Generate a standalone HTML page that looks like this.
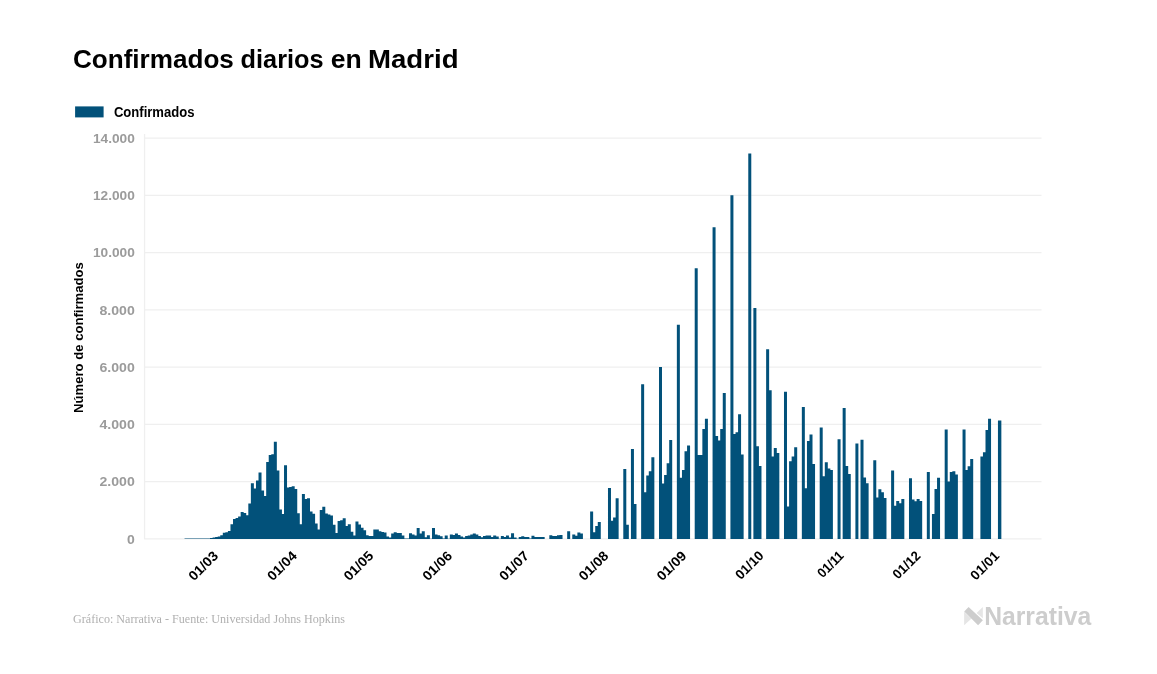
<!DOCTYPE html>
<html lang="es"><head><meta charset="utf-8"><title>Confirmados diarios en Madrid</title>
<style>
html,body{margin:0;padding:0;background:#fff;}
body{width:1157px;height:674px;overflow:hidden;font-family:"Liberation Sans",sans-serif;}
svg{display:block;}
text{font-family:"Liberation Sans",sans-serif;font-weight:bold;}
.title{font-size:26px;fill:#000;}
.leg{font-size:13.8px;fill:#000;}
.yl text{font-size:13.5px;fill:#9b9b9b;text-anchor:end;}
.xl text{font-size:13.5px;fill:#000;}
.yt{font-size:13px;fill:#000;text-anchor:middle;}
.foot{font-family:"Liberation Serif",serif;font-weight:normal;font-size:13px;fill:#b0b0b0;}
.logo{font-size:25.6px;fill:#cdcdcd;}
.grid line{stroke:#efefef;stroke-width:1.3;}
</style></head><body>
<svg width="1157" height="674" viewBox="0 0 1157 674">
<rect width="1157" height="674" fill="#fff"/>
<text class="title" y="67.6"><tspan x="72.9" textLength="161" lengthAdjust="spacingAndGlyphs">Confirmados</tspan> <tspan x="240.6" textLength="83" lengthAdjust="spacingAndGlyphs">diarios</tspan> <tspan x="330.8" textLength="31" lengthAdjust="spacingAndGlyphs">en</tspan> <tspan x="368" textLength="90.5" lengthAdjust="spacingAndGlyphs">Madrid</tspan></text>
<rect x="75.1" y="106.4" width="28.5" height="11" fill="#02517a"/>
<text class="leg" x="113.9" y="116.7" textLength="80.6" lengthAdjust="spacingAndGlyphs">Confirmados</text>
<g class="grid"><line x1="144.5" x2="1041.5" y1="138.15" y2="138.15"/><line x1="144.5" x2="1041.5" y1="195.40" y2="195.40"/><line x1="144.5" x2="1041.5" y1="252.64" y2="252.64"/><line x1="144.5" x2="1041.5" y1="309.89" y2="309.89"/><line x1="144.5" x2="1041.5" y1="367.13" y2="367.13"/><line x1="144.5" x2="1041.5" y1="424.38" y2="424.38"/><line x1="144.5" x2="1041.5" y1="481.62" y2="481.62"/><line x1="144.5" x2="1041.5" y1="538.87" y2="538.87"/><line x1="144.55" x2="144.55" y1="134" y2="539.3"/></g>
<g class="yl"><text x="134.8" y="142.85" textLength="41.9" lengthAdjust="spacingAndGlyphs">14.000</text><text x="134.8" y="200.10" textLength="41.9" lengthAdjust="spacingAndGlyphs">12.000</text><text x="134.8" y="257.34" textLength="41.9" lengthAdjust="spacingAndGlyphs">10.000</text><text x="134.8" y="314.59" textLength="35.3" lengthAdjust="spacingAndGlyphs">8.000</text><text x="134.8" y="371.83" textLength="35.3" lengthAdjust="spacingAndGlyphs">6.000</text><text x="134.8" y="429.08" textLength="35.3" lengthAdjust="spacingAndGlyphs">4.000</text><text x="134.8" y="486.32" textLength="35.3" lengthAdjust="spacingAndGlyphs">2.000</text><text x="134.8" y="543.57" textLength="7.8" lengthAdjust="spacingAndGlyphs">0</text></g>
<text class="yt" transform="translate(83.3 337.6) rotate(-90)" textLength="150.7" lengthAdjust="spacingAndGlyphs">Número de confirmados</text>
<path fill="#02517a" d="M184.55 538.9V538.55H187.55V538.9ZM187.10 538.9V538.55H190.10V538.9ZM189.65 538.9V538.55H192.65V538.9ZM192.20 538.9V538.55H195.20V538.9ZM194.75 538.9V538.55H197.75V538.9ZM197.31 538.9V538.55H200.31V538.9ZM199.86 538.9V538.55H202.86V538.9ZM202.41 538.9V538.55H205.41V538.9ZM204.96 538.9V538.55H207.96V538.9ZM207.51 538.9V538.55H210.51V538.9ZM210.06 538.9V538.00H213.06V538.9ZM212.61 538.9V537.40H215.61V538.9ZM215.16 538.9V537.10H218.16V538.9ZM217.71 538.9V536.50H220.71V538.9ZM220.26 538.9V535.30H223.26V538.9ZM222.81 538.9V532.70H225.81V538.9ZM225.36 538.9V532.20H228.36V538.9ZM227.91 538.9V531.00H230.91V538.9ZM230.47 538.9V524.20H233.47V538.9ZM233.02 538.9V519.10H236.02V538.9ZM235.57 538.9V517.90H238.57V538.9ZM238.12 538.9V516.50H241.12V538.9ZM240.67 538.9V511.90H243.67V538.9ZM243.22 538.9V513.10H246.22V538.9ZM245.77 538.9V515.20H248.77V538.9ZM248.32 538.9V503.40H251.32V538.9ZM250.87 538.9V483.30H253.87V538.9ZM253.42 538.9V488.40H256.42V538.9ZM255.97 538.9V480.40H258.97V538.9ZM258.52 538.9V472.50H261.52V538.9ZM261.07 538.9V490.40H264.07V538.9ZM263.63 538.9V496.10H266.63V538.9ZM266.18 538.9V461.90H269.18V538.9ZM268.73 538.9V455.10H271.73V538.9ZM271.28 538.9V454.30H274.28V538.9ZM273.83 538.9V441.80H276.83V538.9ZM276.38 538.9V470.50H279.38V538.9ZM278.93 538.9V509.40H281.93V538.9ZM281.48 538.9V514.00H284.48V538.9ZM284.03 538.9V465.30H287.03V538.9ZM286.58 538.9V487.50H289.58V538.9ZM289.13 538.9V487.10H292.13V538.9ZM291.68 538.9V486.30H294.68V538.9ZM294.24 538.9V488.90H297.24V538.9ZM296.79 538.9V513.30H299.79V538.9ZM299.34 538.9V524.20H302.34V538.9ZM301.89 538.9V494.10H304.89V538.9ZM304.44 538.9V499.10H307.44V538.9ZM306.99 538.9V498.30H309.99V538.9ZM309.54 538.9V511.50H312.54V538.9ZM312.09 538.9V513.80H315.09V538.9ZM314.64 538.9V523.40H317.64V538.9ZM317.19 538.9V529.40H320.19V538.9ZM319.74 538.9V510.00H322.74V538.9ZM322.29 538.9V506.80H325.29V538.9ZM324.85 538.9V513.40H327.85V538.9ZM327.40 538.9V514.40H330.40V538.9ZM329.95 538.9V515.50H332.95V538.9ZM332.50 538.9V524.70H335.50V538.9ZM335.05 538.9V533.10H338.05V538.9ZM337.60 538.9V521.10H340.60V538.9ZM340.15 538.9V520.30H343.15V538.9ZM342.70 538.9V518.30H345.70V538.9ZM345.25 538.9V526.00H348.25V538.9ZM347.80 538.9V524.20H350.80V538.9ZM350.35 538.9V531.70H353.35V538.9ZM352.90 538.9V535.40H355.90V538.9ZM355.45 538.9V521.60H358.45V538.9ZM358.01 538.9V524.50H361.01V538.9ZM360.56 538.9V527.80H363.56V538.9ZM363.11 538.9V530.20H366.11V538.9ZM365.66 538.9V535.20H368.66V538.9ZM368.21 538.9V535.90H371.21V538.9ZM370.76 538.9V535.90H373.76V538.9ZM373.31 538.9V529.40H376.31V538.9ZM375.86 538.9V529.40H378.86V538.9ZM378.41 538.9V531.20H381.41V538.9ZM380.96 538.9V531.90H383.96V538.9ZM383.51 538.9V532.60H386.51V538.9ZM386.06 538.9V536.40H389.06V538.9ZM388.62 538.9V537.40H391.62V538.9ZM391.17 538.9V533.60H394.17V538.9ZM393.72 538.9V532.30H396.72V538.9ZM396.27 538.9V533.10H399.27V538.9ZM398.82 538.9V533.10H401.82V538.9ZM401.37 538.9V535.40H404.37V538.9ZM403.92 538.9V538.50H406.92V538.9ZM406.47 538.9V538.60H409.47V538.9ZM409.02 538.9V533.20H412.02V538.9ZM411.57 538.9V534.60H414.57V538.9ZM414.12 538.9V535.60H417.12V538.9ZM416.67 538.9V527.90H419.67V538.9ZM419.22 538.9V533.40H422.22V538.9ZM421.78 538.9V531.30H424.78V538.9ZM424.33 538.9V537.20H427.33V538.9ZM426.88 538.9V535.20H429.88V538.9ZM429.43 538.9V538.70H432.43V538.9ZM431.98 538.9V527.90H434.98V538.9ZM434.53 538.9V534.40H437.53V538.9ZM437.08 538.9V535.20H440.08V538.9ZM439.63 538.9V536.20H442.63V538.9ZM442.18 538.9V538.40H445.18V538.9ZM444.73 538.9V535.60H447.73V538.9ZM447.28 538.9V538.70H450.28V538.9ZM449.83 538.9V534.40H452.83V538.9ZM452.38 538.9V535.10H455.38V538.9ZM454.94 538.9V533.50H457.94V538.9ZM457.49 538.9V534.90H460.49V538.9ZM460.04 538.9V536.40H463.04V538.9ZM462.59 538.9V537.60H465.59V538.9ZM465.14 538.9V536.10H468.14V538.9ZM467.69 538.9V535.60H470.69V538.9ZM470.24 538.9V534.40H473.24V538.9ZM472.79 538.9V533.50H475.79V538.9ZM475.34 538.9V534.40H478.34V538.9ZM477.89 538.9V535.90H480.89V538.9ZM480.44 538.9V537.20H483.44V538.9ZM482.99 538.9V536.00H485.99V538.9ZM485.55 538.9V535.40H488.55V538.9ZM488.10 538.9V535.40H491.10V538.9ZM490.65 538.9V537.00H493.65V538.9ZM493.20 538.9V535.40H496.20V538.9ZM495.75 538.9V536.40H498.75V538.9ZM498.30 538.9V538.70H501.30V538.9ZM500.85 538.9V535.90H503.85V538.9ZM503.40 538.9V537.10H506.40V538.9ZM505.95 538.9V535.40H508.95V538.9ZM508.50 538.9V537.50H511.50V538.9ZM511.05 538.9V533.20H514.05V538.9ZM513.60 538.9V537.50H516.60V538.9ZM516.15 538.9V538.70H519.15V538.9ZM518.71 538.9V537.00H521.71V538.9ZM521.26 538.9V536.30H524.26V538.9ZM523.81 538.9V537.00H526.81V538.9ZM526.36 538.9V537.00H529.36V538.9ZM528.91 538.9V538.60H531.91V538.9ZM531.46 538.9V535.70H534.46V538.9ZM534.01 538.9V537.00H537.01V538.9ZM536.56 538.9V537.10H539.56V538.9ZM539.11 538.9V537.10H542.11V538.9ZM541.66 538.9V537.10H544.66V538.9ZM549.32 538.9V535.30H552.32V538.9ZM551.87 538.9V535.90H554.87V538.9ZM554.42 538.9V536.10H557.42V538.9ZM556.97 538.9V535.30H559.97V538.9ZM559.52 538.9V535.00H562.52V538.9ZM567.17 538.9V531.30H570.17V538.9ZM572.27 538.9V534.40H575.27V538.9ZM574.82 538.9V535.80H577.82V538.9ZM577.37 538.9V532.40H580.37V538.9ZM579.92 538.9V533.50H582.92V538.9ZM590.13 538.9V511.60H593.13V538.9ZM592.68 538.9V532.20H595.68V538.9ZM595.23 538.9V525.90H598.23V538.9ZM597.78 538.9V522.00H600.78V538.9ZM607.98 538.9V488.10H610.98V538.9ZM610.53 538.9V520.70H613.53V538.9ZM613.09 538.9V517.40H616.09V538.9ZM615.64 538.9V498.20H618.64V538.9ZM623.29 538.9V468.90H626.29V538.9ZM625.84 538.9V524.70H628.84V538.9ZM630.94 538.9V449.00H633.94V538.9ZM633.49 538.9V503.90H636.49V538.9ZM641.14 538.9V384.20H644.14V538.9ZM643.69 538.9V492.20H646.69V538.9ZM646.25 538.9V475.60H649.25V538.9ZM648.80 538.9V471.30H651.80V538.9ZM651.35 538.9V457.20H654.35V538.9ZM659.00 538.9V367.10H662.00V538.9ZM661.55 538.9V483.40H664.55V538.9ZM664.10 538.9V475.10H667.10V538.9ZM666.65 538.9V463.20H669.65V538.9ZM669.20 538.9V439.90H672.20V538.9ZM676.86 538.9V324.80H679.86V538.9ZM679.41 538.9V477.70H682.41V538.9ZM681.96 538.9V469.90H684.96V538.9ZM684.51 538.9V451.30H687.51V538.9ZM687.06 538.9V445.60H690.06V538.9ZM694.71 538.9V268.30H697.71V538.9ZM697.26 538.9V455.00H700.26V538.9ZM699.81 538.9V455.00H702.81V538.9ZM702.36 538.9V429.10H705.36V538.9ZM704.91 538.9V418.70H707.91V538.9ZM712.57 538.9V227.20H715.57V538.9ZM715.12 538.9V436.00H718.12V538.9ZM717.67 538.9V440.50H720.67V538.9ZM720.22 538.9V429.10H723.22V538.9ZM722.77 538.9V393.10H725.77V538.9ZM730.42 538.9V195.20H733.42V538.9ZM732.97 538.9V434.00H735.97V538.9ZM735.52 538.9V432.20H738.52V538.9ZM738.07 538.9V414.30H741.07V538.9ZM740.63 538.9V454.50H743.63V538.9ZM748.28 538.9V153.40H751.28V538.9ZM753.38 538.9V308.10H756.38V538.9ZM755.93 538.9V446.20H758.93V538.9ZM758.48 538.9V465.90H761.48V538.9ZM766.13 538.9V349.20H769.13V538.9ZM768.68 538.9V390.20H771.68V538.9ZM771.24 538.9V456.60H774.24V538.9ZM773.79 538.9V448.10H776.79V538.9ZM776.34 538.9V453.00H779.34V538.9ZM783.99 538.9V391.70H786.99V538.9ZM786.54 538.9V506.40H789.54V538.9ZM789.09 538.9V461.30H792.09V538.9ZM791.64 538.9V456.60H794.64V538.9ZM794.19 538.9V447.30H797.19V538.9ZM801.84 538.9V407.05H804.84V538.9ZM804.40 538.9V488.20H807.40V538.9ZM806.95 538.9V441.00H809.95V538.9ZM809.50 538.9V434.50H812.50V538.9ZM812.05 538.9V464.10H815.05V538.9ZM819.70 538.9V427.50H822.70V538.9ZM822.25 538.9V476.30H825.25V538.9ZM824.80 538.9V462.20H827.80V538.9ZM827.35 538.9V468.40H830.35V538.9ZM829.90 538.9V470.00H832.90V538.9ZM837.56 538.9V439.20H840.56V538.9ZM842.66 538.9V408.10H845.66V538.9ZM845.21 538.9V465.90H848.21V538.9ZM847.76 538.9V473.90H850.76V538.9ZM855.41 538.9V443.60H858.41V538.9ZM860.51 538.9V439.70H863.51V538.9ZM863.06 538.9V477.60H866.06V538.9ZM865.61 538.9V483.20H868.61V538.9ZM873.27 538.9V460.20H876.27V538.9ZM875.82 538.9V497.50H878.82V538.9ZM878.37 538.9V489.20H881.37V538.9ZM880.92 538.9V492.30H883.92V538.9ZM883.47 538.9V498.00H886.47V538.9ZM891.12 538.9V470.60H894.12V538.9ZM893.67 538.9V505.80H896.67V538.9ZM896.22 538.9V500.90H899.22V538.9ZM898.78 538.9V503.20H901.78V538.9ZM901.33 538.9V499.10H904.33V538.9ZM908.98 538.9V478.30H911.98V538.9ZM911.53 538.9V499.60H914.53V538.9ZM914.08 538.9V501.20H917.08V538.9ZM916.63 538.9V499.10H919.63V538.9ZM919.18 538.9V500.95H922.18V538.9ZM926.83 538.9V472.10H929.83V538.9ZM931.94 538.9V513.90H934.94V538.9ZM934.49 538.9V489.00H937.49V538.9ZM937.04 538.9V477.80H940.04V538.9ZM944.69 538.9V429.60H947.69V538.9ZM947.24 538.9V481.50H950.24V538.9ZM949.79 538.9V472.10H952.79V538.9ZM952.34 538.9V471.30H955.34V538.9ZM954.89 538.9V474.50H957.89V538.9ZM962.55 538.9V429.60H965.55V538.9ZM965.10 538.9V470.00H968.10V538.9ZM967.65 538.9V466.20H970.65V538.9ZM970.20 538.9V459.10H973.20V538.9ZM980.40 538.9V456.40H983.40V538.9ZM982.95 538.9V452.20H985.95V538.9ZM985.50 538.9V430.10H988.50V538.9ZM988.05 538.9V418.70H991.05V538.9ZM997.95 538.9V420.50H1001.35V538.9Z"/>
<g class="xl"><text transform="translate(219.0 556.6) rotate(-45)" text-anchor="end" textLength="35.4" lengthAdjust="spacingAndGlyphs">01/03</text><text transform="translate(297.7 556.6) rotate(-45)" text-anchor="end" textLength="35.4" lengthAdjust="spacingAndGlyphs">01/04</text><text transform="translate(374.2 556.6) rotate(-45)" text-anchor="end" textLength="35.4" lengthAdjust="spacingAndGlyphs">01/05</text><text transform="translate(453.0 556.6) rotate(-45)" text-anchor="end" textLength="35.4" lengthAdjust="spacingAndGlyphs">01/06</text><text transform="translate(529.7 556.6) rotate(-45)" text-anchor="end" textLength="35.4" lengthAdjust="spacingAndGlyphs">01/07</text><text transform="translate(609.3 556.6) rotate(-45)" text-anchor="end" textLength="35.4" lengthAdjust="spacingAndGlyphs">01/08</text><text transform="translate(687.3 556.6) rotate(-45)" text-anchor="end" textLength="35.4" lengthAdjust="spacingAndGlyphs">01/09</text><text transform="translate(764.4 556.6) rotate(-45)" text-anchor="end" textLength="33.4" lengthAdjust="spacingAndGlyphs">01/10</text><text transform="translate(844.6 556.6) rotate(-45)" text-anchor="end" textLength="31.0" lengthAdjust="spacingAndGlyphs">01/11</text><text transform="translate(921.3 556.6) rotate(-45)" text-anchor="end" textLength="32.9" lengthAdjust="spacingAndGlyphs">01/12</text><text transform="translate(1000.1 556.6) rotate(-45)" text-anchor="end" textLength="34.4" lengthAdjust="spacingAndGlyphs">01/01</text></g>
<text class="foot" x="73" y="622.7" textLength="272" lengthAdjust="spacingAndGlyphs">Gráfico: Narrativa - Fuente: Universidad Johns Hopkins</text>
<path fill="#e5e5e5" d="M964.1 611.8V625.2L971.3 618.8Z"/><path fill="#e5e5e5" d="M982.8 607V618.2L976.6 613Z"/><path fill="#cdcdcd" d="M968.6 607L964.2 611.4L978.1 625.2L982.9 620.3Z"/>
<text class="logo" x="984.2" y="625.4" textLength="107" lengthAdjust="spacingAndGlyphs">Narrativa</text>
</svg>
</body></html>
